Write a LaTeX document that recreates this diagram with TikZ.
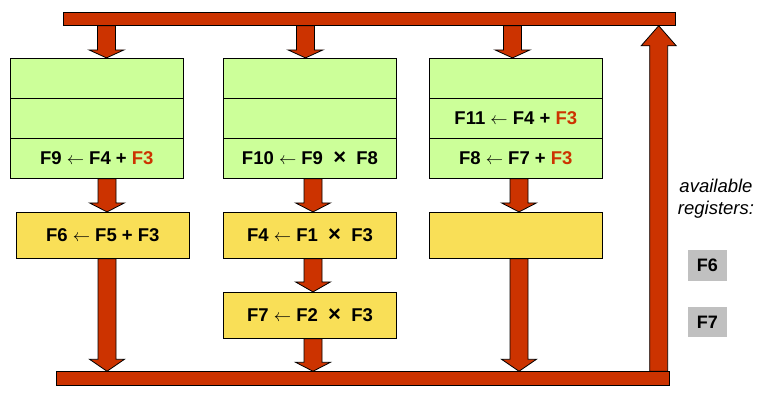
\documentclass[tikz,border=0pt]{standalone}
\usepackage{fontspec}
\setmainfont{Liberation Sans}
\usetikzlibrary{calc,backgrounds}

\definecolor{busred}{HTML}{CC3300}
\definecolor{slotgreen}{HTML}{CCFF99}
\definecolor{fuyellow}{HTML}{F9DF57}
\definecolor{reggray}{HTML}{C0C0C0}

\newcommand{\hot}[1]{\textcolor{busred}{#1}}
\newcommand{\tms}{\ \ {\fontsize{22}{22}\selectfont ×}\ \ }
\newcommand{\fatarrow}[3][10]{%
  \filldraw[fat] let \p1=(#2), \p2=(#3), \n1={sign(\y2-\y1)} in
    ({\x1-9pt},{\y1}) -- ({\x1-9pt},{\y2-\n1*#1pt}) -- ({\x1-17.5pt},{\y2-\n1*#1pt})
    -- ({\x1},{\y2}) -- ({\x1+17.5pt},{\y2-\n1*#1pt}) -- ({\x1+9pt},{\y2-\n1*#1pt})
    -- ({\x1+9pt},{\y1}) -- cycle;}

\tikzset{
  slot/.style={draw, line width=0.8pt, fill=slotgreen, minimum width=173pt, minimum height=40pt,
    inner sep=0pt, font=\bfseries\fontsize{18.5}{20}\selectfont},
  fu/.style={slot, fill=fuyellow, minimum height=46pt},
  bus/.style={draw, line width=0.8pt, fill=busred, minimum width=612.7pt, minimum height=13.3pt, inner sep=0pt},
  reg/.style={fill=reggray, minimum width=39.3pt, minimum height=30.7pt, inner sep=0pt,
    font=\bfseries\fontsize{18}{20}\selectfont},
  fat/.style={draw=black, fill=busred, line width=0.8pt}
}

\begin{document}
\begin{tikzpicture}[x=1pt,y=-1pt]
  \useasboundingbox (0,0) rectangle (764,400);

  \node[bus] (top) at (369.3,18.7) {};
  \node[bus] (bottom) at (363,378.3) {};

  \node[slot] (g1a) at (96.8,78.3) {};
  \node[slot] (g1b) at (96.8,118.3) {};
  \node[slot] (g1c) at (96.8,158.3) {F9 $\leftarrow$ F4 + \hot{F3}};
  \node[slot] (g2a) at (310,78.3) {};
  \node[slot] (g2b) at (310,118.3) {};
  \node[slot] (g2c) at (310,158.3) {F10 $\leftarrow$ F9\tms F8};
  \node[slot] (g3a) at (515.8,78.3) {};
  \node[slot] (g3b) at (515.8,118.3) {F11 $\leftarrow$ F4 + \hot{F3}};
  \node[slot] (g3c) at (515.8,158.3) {F8 $\leftarrow$ F7 + \hot{F3}};

  \node[fu] (y1) at (102.8,235.3) {F6 $\leftarrow$ F5 + F3};
  \node[fu] (y2a) at (310,235.3) {F4 $\leftarrow$ F1\tms F3};
  \node[fu] (y2b) at (310,315.3) {F7 $\leftarrow$ F2\tms F3};
  \node[fu] (y3) at (515.8,235.3) {};

  \node[align=center, font=\itshape\fontsize{18.5}{22}\selectfont] (avail) at (716,199) {available\\registers:};
  \node[reg] (f6) at (707.3,265.5) {F6};
  \node[reg] (f7) at (707.3,322) {F7};

  \coordinate (u1) at (106.5,0);
  \coordinate (u2) at (305.5,0);
  \coordinate (u3) at (512.5,0);
  \coordinate (d1) at (107,0);
  \coordinate (d2) at (313,0);
  \coordinate (d3) at (519,0);
  \coordinate (r) at (658.7,0);

  \begin{pgfonlayer}{background}
  \fatarrow[8]{top.south -| u1}{g1a.north -| u1}
  \fatarrow[8]{top.south -| u2}{g2a.north -| u2}
  \fatarrow[8]{top.south -| u3}{g3a.north -| u3}
  \fatarrow[9]{g1c.south -| d1}{y1.north -| d1}
  \fatarrow[9]{g2c.south -| d2}{y2a.north -| d2}
  \fatarrow[9]{g3c.south -| d3}{y3.north -| d3}
  \fatarrow[12]{y1.south -| d1}{bottom.north -| d1}
  \fatarrow[10]{y2a.south -| d2}{y2b.north -| d2}
  \fatarrow[9]{y2b.south -| d2}{bottom.north -| d2}
  \fatarrow[12]{y3.south -| d3}{bottom.north -| d3}
  \fatarrow[20]{bottom.north -| r}{top.south -| r}
  \end{pgfonlayer}
\end{tikzpicture}
\end{document}
